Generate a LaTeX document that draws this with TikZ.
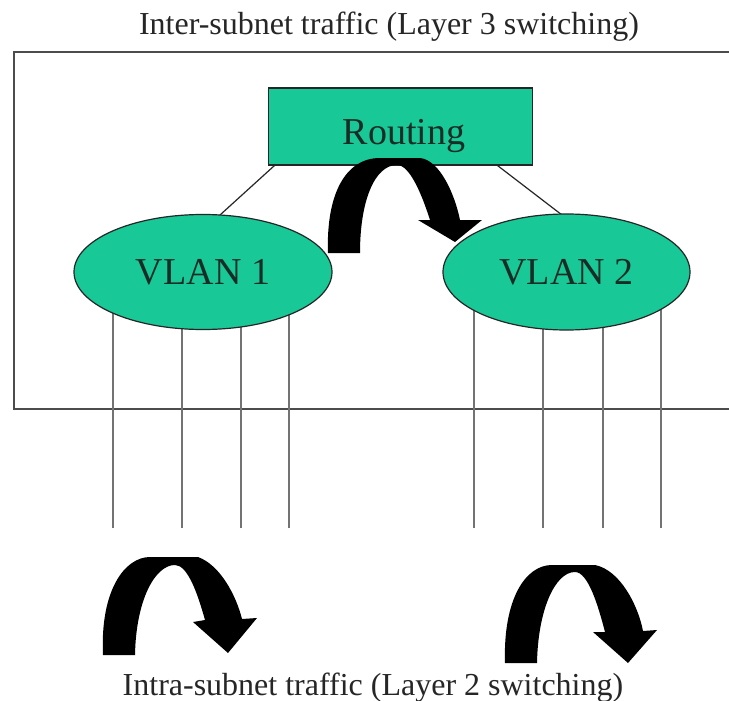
\documentclass[tikz,border=0pt]{standalone}
\usepackage{fontspec}
\setmainfont{Liberation Serif}
\usetikzlibrary{shapes.geometric,calc}
\definecolor{vgreen}{RGB}{24,200,150}
\definecolor{txtdark}{RGB}{25,45,38}
\begin{document}
\begin{tikzpicture}[x=1pt,y=-1pt,
  greenbox/.style={draw=black!85,line width=1.2pt,fill=vgreen,text=txtdark,font=\fontsize{38}{40}\selectfont},
  vlan/.style={greenbox,ellipse,inner sep=0pt},
  drop/.style={draw=black!55,line width=1.3pt},
  link/.style={draw=black!85,line width=1.2pt},
  bigarrow/.style={fill=black,draw=none},
  caption/.style={font=\fontsize{32}{34}\selectfont,text=black!85,anchor=base}]
\useasboundingbox (0,0) rectangle (729,701);
\fill[white] (0,0) rectangle (729,701);
% outer frame (right side runs off the picture)
\draw[black!70,line width=1.6pt] (740,52) -- (14,52) -- (14,409) -- (740,409);
% captions
\node[caption] (top) at (389,35) {Inter-subnet traffic (Layer 3 switching)};
\node[caption] (bot) at (373,695) {Intra-subnet traffic (Layer 2 switching)};
% drop line end points
\foreach \n/\x in {a/113,b/182,c/241,d/289,e/474,f/543,g/603,h/661}
  \coordinate (\n) at (\x,528);
\foreach \n in {a,b,c,d,e,f,g,h}
  \draw[drop] (\n) -- ++(0,-250);
% routing box
\node[greenbox,minimum width=264pt,minimum height=77pt,inner sep=0pt,
      text height=35pt,text depth=0pt] (rt) at (400.5,126.5) {\hspace*{7pt}Routing};
% links from routing to VLANs
\coordinate (v1top) at (220,215);
\coordinate (v2top) at (562,215);
\draw[link] ($(rt.south west)+(6.5,0)$) -- (v1top);
\draw[link] ($(rt.south east)+(-35.5,0)$) -- (v2top);
% big curved arrow between VLANs
\fill[bigarrow] (328,253) .. controls (326,195) and (345,158) .. (380,158) -- (420,158)
  .. controls (440,160) and (455,195) .. (460,220) -- (482,220) -- (455,242) -- (418,220) -- (430,220)
  .. controls (422,195) and (410,165) .. (397,165) .. controls (375,165) and (360,200) .. (360,253) -- cycle;
% VLAN ellipses
\node[vlan,minimum width=258pt,minimum height=115pt] (v1) at (203,272) {VLAN 1};
\node[vlan,minimum width=247pt,minimum height=116pt] (v2) at (566.5,272) {VLAN 2};
% bottom arrows
\fill[bigarrow] (103,655) .. controls (100,590) and (125,557) .. (150,557) -- (198,557)
  .. controls (220,565) and (236,595) .. (242,619) -- (257,618) -- (228,653) -- (193,622) -- (205,620)
  .. controls (198,595) and (188,565) .. (175,565) .. controls (155,565) and (136,600) .. (135,655) -- cycle;
\fill[bigarrow] (505,663) .. controls (503,600) and (525,565) .. (552,565) -- (595,565)
  .. controls (620,570) and (638,605) .. (643,631) -- (657,630) -- (628,663) -- (593,632) -- (605,632)
  .. controls (598,605) and (588,572) .. (575,572) .. controls (555,572) and (538,610) .. (537,663) -- cycle;
\end{tikzpicture}
\end{document}
